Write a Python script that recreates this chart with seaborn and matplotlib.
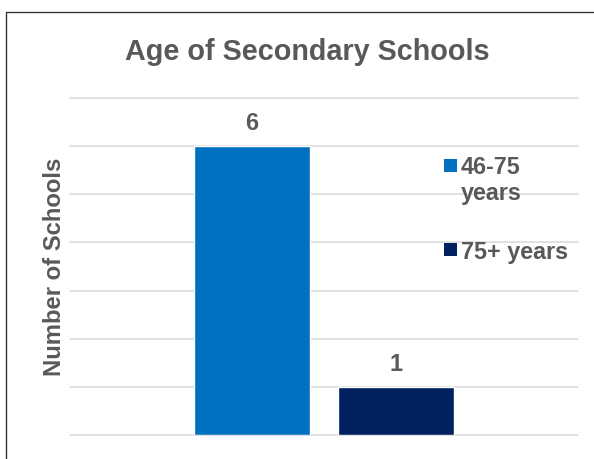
import pandas as pd
import seaborn as sns
import matplotlib.pyplot as plt
from matplotlib.lines import Line2D
from matplotlib.patches import Rectangle

# chart data
age_groups = ['46-75 years', '75+ years']
legend_labels = ['46-75\nyears', '75+ years']
school_counts = [6, 1]
bar_colors = ['#0070C0', '#002060']
y_ticks = [0, 1, 2, 3, 4, 5, 6, 7]

W, H = 594, 460
TXT = '#595959'

def fx(px):
    return px / W

def fy(py):
    return 1 - py / H

sns.set_theme(style='white')
plt.rcParams['font.family'] = ['Liberation Sans', 'DejaVu Sans']

df = pd.DataFrame({'group': ['Schools'] * len(age_groups),
                   'age': age_groups,
                   'count': school_counts})

fig = plt.figure(figsize=(W / 100, H / 100), dpi=100)
ax = fig.add_axes([fx(70), fy(436), fx(578) - fx(70), fy(99) - fy(436)])

sns.barplot(data=df, x='group', y='count', hue='age', hue_order=age_groups,
            palette=bar_colors, saturation=1, width=0.569, gap=0.2,
            legend=False, ax=ax)

ax.set_xlim(-0.5, 0.5)
ax.set_ylim(0, 7)
ax.set_yticks(y_ticks)
ax.set_axisbelow(True)
ax.grid(axis='y', color='#d9d9d9', linewidth=1.1)
for gl in ax.get_ygridlines():
    gl.set_clip_on(False)
ax.tick_params(left=False, bottom=False, labelleft=False, labelbottom=False)
ax.set_xlabel('')
ax.set_ylabel('')
sns.despine(ax=ax, left=True, bottom=True)

for cont in ax.containers:
    ax.bar_label(cont, padding=8.8, fontsize=16.8, fontweight='bold', color=TXT)

# title and axis label
fig.text(fx(307), fy(60), 'Age of Secondary Schools', ha='center', va='baseline',
         fontsize=20.7, fontweight='bold', color=TXT)
fig.text(fx(55), fy(266.5), 'Number of Schools', rotation=90, ha='center', va='center',
         fontsize=17.2, fontweight='bold', color=TXT)

# legend (baseline of the last line of each label)
sq_tops = [160, 244]
base_y = [200, 259]
for lab, col, t, b in zip(legend_labels, bar_colors, sq_tops, base_y):
    fig.patches.append(Rectangle((fx(444), fy(t + 13)), fx(13), 13 / H,
                                 transform=fig.transFigure, facecolor=col,
                                 edgecolor='none'))
    fig.text(fx(461), fy(b), lab, ha='left', va='baseline', fontsize=16.8,
             fontweight='bold', color=TXT, linespacing=1.14)

# chart frame
fig.add_artist(Line2D([fx(6), fx(6), 1.0], [0.0, fy(13), fy(13)],
                      transform=fig.transFigure, color='#333333', linewidth=1))

fig.savefig('out.png', dpi=100)
